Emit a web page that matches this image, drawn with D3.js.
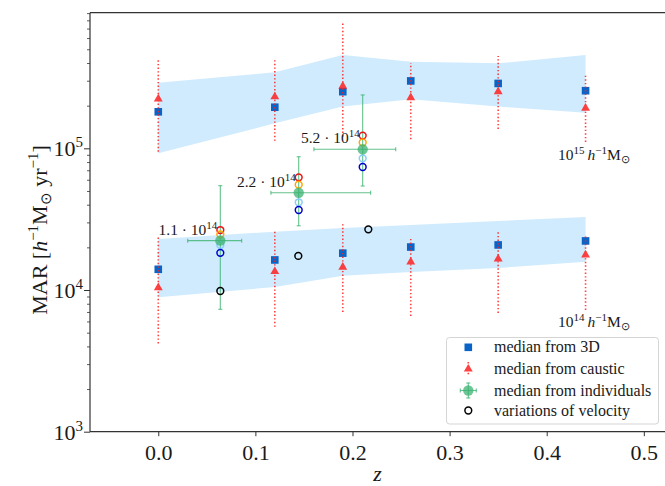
<!DOCTYPE html>
<html><head><meta charset="utf-8">
<script src="https://cdn.jsdelivr.net/npm/d3@7"></script>
<style>
body{margin:0;background:#fff}
svg{display:block}
text{font-family:"Liberation Serif","Times New Roman",serif;fill:#1a1a1a}
</style>
</head><body>
<svg id="chart" width="665" height="486"></svg>
<script>
// ---------- data ----------
const zBins = [0, 0.12, 0.19, 0.26, 0.35, 0.44];
// 10^15 group
const hi3D        = [1.81e5, 1.95e5, 2.51e5, 2.99e5, 2.87e5, 2.55e5];
const hiCaustic   = [2.23e5, 2.31e5, 2.75e5, 2.28e5, 2.51e5, 1.92e5];
const hiCausticLo = [9.46e4, 1.13e5, 1.21e5, 1.16e5, 1.37e5, 1.11e5];
const hiCausticHi = [4.25e5, 4.25e5, 7.70e5, 4.00e5, 4.48e5, 3.29e5];
const hiBandLo    = [9.22e4, 1.50e5, 1.97e5, 2.22e5, 1.97e5, 1.78e5];
const hiBandHi    = [2.90e5, 3.44e5, 4.55e5, 4.08e5, 3.98e5, 4.55e5];
// 10^14 group
const lo3D        = [1.40e4, 1.63e4, 1.82e4, 2.01e4, 2.08e4, 2.22e4];
const loCaustic   = [1.04e4, 1.35e4, 1.45e4, 1.58e4, 1.66e4, 1.77e4];
const loCausticLo = [4.2e3, 5.5e3, 7.0e3, 6.56e3, 6.89e3, 7.23e3];
const loCausticHi = [2.38e4, 2.65e4, 3.02e4, 2.33e4, 2.57e4, 2.40e4];
const loBandLo    = [8.88e3, 1.05e4, 1.26e4, 1.34e4, 1.43e4, 1.58e4];
const loBandHi    = [2.29e4, 2.58e4, 2.74e4, 2.88e4, 3.07e4, 3.27e4];
// median from individuals (three mass bins)
const indivZ      = [0.0639, 0.1446, 0.2105];
const indivZLo    = [0.0303, 0.1160, 0.1603];
const indivZHi    = [0.0859, 0.2187, 0.2445];
const indivMAR    = [2.23e4, 4.86e4, 9.84e4];
const indivMARLo  = [7.31e3, 2.84e4, 5.42e4];
const indivMARHi  = [5.45e4, 8.72e4, 2.38e5];
const indivLabels = ["1.1", "2.2", "5.2"];
// coloured open circles around each individual median
const circRed     = [2.65e4, 6.24e4, 1.23e5];
const circOrange  = [2.47e4, 5.54e4, 1.10e5];
const circLight   = [2.08e4, 4.16e4, 8.50e4];
const circDark    = [1.83e4, 3.67e4, 7.38e4];
// variations of velocity
const velZ        = [0.0639, 0.1442, 0.2163];
const velMAR      = [9.84e3, 1.74e4, 2.68e4];
// ticks
const xTicks = [0, 0.1, 0.2, 0.3, 0.4, 0.5];
const yTicks = [1e3, 1e4, 1e5];
const legendLabels = ["median from 3D", "median from caustic", "median from individuals", "variations of velocity"];

// ---------- layout ----------
const svg = d3.select("#chart");
const L = 90, R = 665, T = 12.7, B = 431.7;
const x = d3.scaleLinear().domain([-0.0703, 0.5218]).range([L, R]);
const y = d3.scaleLog().domain([1e3, 9.06e5]).range([B, T]);

const C = {
  band: "#87cefa", blue: "#0a64c8", red: "#ff2020", green: "#3cb371",
  orange: "#ffa500", light: "#87cefa", dark: "#0000cd"
};

// bands
function band(lo, hi) {
  const area = d3.area().x((d, i) => x(zBins[i])).y0((d, i) => y(lo[i])).y1((d, i) => y(hi[i]));
  svg.append("path").attr("d", area(zBins)).attr("fill", C.band).attr("fill-opacity", 0.4);
}
band(hiBandLo, hiBandHi);
band(loBandLo, loBandHi);

// squares (3D)
function squares(vals) {
  svg.append("g").selectAll("rect").data(vals).join("rect")
    .attr("x", (d, i) => x(zBins[i]) - 3.8).attr("y", d => y(d) - 3.8)
    .attr("width", 7.6).attr("height", 7.6).attr("fill", C.blue);
}
squares(hi3D);
squares(lo3D);

// caustic with dotted error bars
function caustic(vals, lo, hi) {
  const g = svg.append("g").attr("opacity", 0.85);
  g.selectAll("line").data(vals).join("line")
    .attr("x1", (d, i) => x(zBins[i])).attr("x2", (d, i) => x(zBins[i]))
    .attr("y1", (d, i) => y(lo[i])).attr("y2", (d, i) => y(hi[i]))
    .attr("stroke", C.red).attr("stroke-width", 1.6).attr("stroke-dasharray", "1.4,2.2");
  const tri = d3.symbol().type(d3.symbolTriangle).size(34);
  g.selectAll("path").data(vals).join("path")
    .attr("d", tri).attr("transform", (d, i) => `translate(${x(zBins[i])},${y(d)})`)
    .attr("fill", C.red);
}
caustic(hiCaustic, hiCausticLo, hiCausticHi);
caustic(loCaustic, loCausticLo, loCausticHi);

// individuals: error bars + marker
const gi = svg.append("g");
indivZ.forEach((z, i) => {
  const cx = x(z), cy = y(indivMAR[i]);
  const eb = gi.append("g").attr("stroke", C.green).attr("stroke-width", 1.1).attr("stroke-opacity", 0.8);
  eb.append("line").attr("x1", x(indivZLo[i])).attr("x2", x(indivZHi[i])).attr("y1", cy).attr("y2", cy);
  eb.append("line").attr("x1", cx).attr("x2", cx).attr("y1", y(indivMARLo[i])).attr("y2", y(indivMARHi[i]));
  [[x(indivZLo[i]), cy, 0], [x(indivZHi[i]), cy, 0], [cx, y(indivMARLo[i]), 1], [cx, y(indivMARHi[i]), 1]].forEach(([px, py, v]) => {
    if (v) eb.append("line").attr("x1", px - 2).attr("x2", px + 2).attr("y1", py).attr("y2", py);
    else eb.append("line").attr("x1", px).attr("x2", px).attr("y1", py - 2).attr("y2", py + 2);
  });
});

// open circles
function circles(zs, vals, col, op) {
  svg.append("g").selectAll("circle").data(vals).join("circle")
    .attr("cx", (d, i) => x(zs[i])).attr("cy", d => y(d)).attr("r", 3.4)
    .attr("fill", "none").attr("stroke", col).attr("stroke-width", 1.5).attr("stroke-opacity", op);
}
circles(indivZ, circRed, "#ee1111", 1);
circles(indivZ, circOrange, C.orange, 1);
circles(indivZ, circLight, C.light, 1);
circles(indivZ, circDark, C.dark, 1);
svg.append("g").selectAll("circle").data(indivMAR).join("circle")
  .attr("cx", (d, i) => x(indivZ[i])).attr("cy", d => y(d)).attr("r", 5.2)
  .attr("fill", C.green).attr("fill-opacity", 0.75);
circles(velZ, velMAR, "#000", 1);

// mass labels for individual points
indivZ.forEach((z, i) => {
  const t = svg.append("text").attr("x", x(z) - 3).attr("y", y(indivMAR[i]) - 6)
    .attr("text-anchor", "end").attr("font-size", 15.5);
  t.append("tspan").text(indivLabels[i] + " · 10");
  t.append("tspan").attr("dy", -6).attr("font-size", 11).text("14");
});

// group labels
function massLabel(px, py, exp) {
  const t = svg.append("text").attr("x", px).attr("y", py).attr("font-size", 15.5);
  t.append("tspan").text("10");
  t.append("tspan").attr("dy", -6).attr("font-size", 11).text(exp);
  t.append("tspan").attr("dy", 6).text("\u2009");
  t.append("tspan").attr("font-style", "italic").text("h");
  t.append("tspan").attr("dy", -6).attr("font-size", 11).text("\u22121");
  t.append("tspan").attr("dy", 6).text("M");
  t.append("tspan").attr("dy", 3).attr("font-size", 11).text("\u2299");
}
massLabel(558, 160, "15");
massLabel(558, 326.5, "14");

// ---------- axes ----------
// x axis
const xa = svg.append("g").attr("transform", `translate(0,${B})`)
  .call(d3.axisBottom(x).tickValues(xTicks).tickSize(4.5).tickFormat(d3.format(".1f")));
xa.select(".domain").remove();
xa.selectAll("line").attr("stroke", "#333").attr("stroke-width", 1);
xa.selectAll("text").attr("font-size", 22).attr("dy", 0).attr("y", 28).attr("fill", "#1a1a1a")
  .style("font-family", '"Liberation Serif",serif');
// y axis major
const ya = svg.append("g").attr("transform", `translate(${L},0)`)
  .call(d3.axisLeft(y).tickValues(yTicks).tickSize(6).tickFormat(""));
ya.select(".domain").remove();
ya.selectAll("line").attr("stroke", "#333");
// minor
const minor = [];
for (let e = 3; e <= 5; e++) for (let m = 2; m <= 9; m++) { const v = m * Math.pow(10, e); if (v < 9.06e5) minor.push(v); }
const ym = svg.append("g").attr("transform", `translate(${L},0)`)
  .call(d3.axisLeft(y).tickValues(minor).tickSize(3).tickFormat(""));
ym.select(".domain").remove();
ym.selectAll("line").attr("stroke", "#333").attr("stroke-width", 0.8);
// tick labels with superscripts
yTicks.forEach(v => {
  const t = svg.append("text").attr("x", 83).attr("y", y(v) + 8).attr("text-anchor", "end").attr("font-size", 22);
  t.append("tspan").text("10");
  t.append("tspan").attr("dy", -9).attr("font-size", 15).text(String(Math.round(Math.log10(v))));
});
// spines
svg.append("line").attr("x1", L).attr("x2", L).attr("y1", T).attr("y2", B).attr("stroke", "#333").attr("stroke-width", 1.2);
svg.append("line").attr("x1", L).attr("x2", R).attr("y1", B).attr("y2", B).attr("stroke", "#333").attr("stroke-width", 1.2);
svg.append("line").attr("x1", L).attr("x2", R).attr("y1", T).attr("y2", T).attr("stroke", "#333").attr("stroke-width", 1.2);

// axis titles
svg.append("text").attr("x", (L + R) / 2).attr("y", 481).attr("text-anchor", "middle")
  .attr("font-size", 22).attr("font-style", "italic").text("z");
const yl = svg.append("text").attr("transform", "translate(47,230) rotate(-90)")
  .attr("text-anchor", "middle").attr("font-size", 22);
yl.append("tspan").text("MAR [");
yl.append("tspan").attr("font-style", "italic").text("h");
yl.append("tspan").attr("dy", -9).attr("font-size", 15).text("\u22121");
yl.append("tspan").attr("dy", 9).text("M");
yl.append("tspan").attr("dy", 4).attr("font-size", 15).text("\u2299");
yl.append("tspan").attr("dy", -4).text(" yr");
yl.append("tspan").attr("dy", -9).attr("font-size", 15).text("\u22121");
yl.append("tspan").attr("dy", 9).text("]");

// ---------- legend ----------
const lg = svg.append("g");
lg.append("rect").attr("x", 446.5).attr("y", 337.5).attr("width", 212).attr("height", 86.5)
  .attr("rx", 3).attr("fill", "#fff").attr("fill-opacity", 0.85).attr("stroke", "#d5d5d5");
const rowsY = [347.3, 369, 390.5, 410.5];
const mx = 468.3;
// square
lg.append("rect").attr("x", mx - 3.8).attr("y", rowsY[0] - 3.8).attr("width", 7.6).attr("height", 7.6).attr("fill", C.blue);
// triangle with dotted bar
const lt = lg.append("g").attr("opacity", 0.85);
lt.append("line").attr("x1", mx).attr("x2", mx).attr("y1", rowsY[1] - 7).attr("y2", rowsY[1] + 7)
  .attr("stroke", C.red).attr("stroke-width", 1.6).attr("stroke-dasharray", "1.4,2.2");
lt.append("path").attr("d", d3.symbol().type(d3.symbolTriangle).size(34)).attr("transform", `translate(${mx},${rowsY[1]})`).attr("fill", C.red);
// green errorbar marker
const le = lg.append("g").attr("stroke", C.green).attr("stroke-width", 1.1).attr("stroke-opacity", 0.8);
le.append("line").attr("x1", mx - 8).attr("x2", mx + 8).attr("y1", rowsY[2]).attr("y2", rowsY[2]);
le.append("line").attr("x1", mx).attr("x2", mx).attr("y1", rowsY[2] - 7.5).attr("y2", rowsY[2] + 7.5);
le.append("line").attr("x1", mx - 8).attr("x2", mx - 8).attr("y1", rowsY[2] - 2).attr("y2", rowsY[2] + 2);
le.append("line").attr("x1", mx + 8).attr("x2", mx + 8).attr("y1", rowsY[2] - 2).attr("y2", rowsY[2] + 2);
le.append("line").attr("x1", mx - 2).attr("x2", mx + 2).attr("y1", rowsY[2] - 7.5).attr("y2", rowsY[2] - 7.5);
le.append("line").attr("x1", mx - 2).attr("x2", mx + 2).attr("y1", rowsY[2] + 7.5).attr("y2", rowsY[2] + 7.5);
lg.append("circle").attr("cx", mx).attr("cy", rowsY[2]).attr("r", 5.2).attr("fill", C.green).attr("fill-opacity", 0.75);
// black circle
lg.append("circle").attr("cx", mx).attr("cy", rowsY[3]).attr("r", 3.4).attr("fill", "none").attr("stroke", "#000").attr("stroke-width", 1.5);
legendLabels.forEach((s, i) => {
  lg.append("text").attr("x", 494).attr("y", rowsY[i] + 5).attr("font-size", 16).text(s);
});
</script>
</body></html>
